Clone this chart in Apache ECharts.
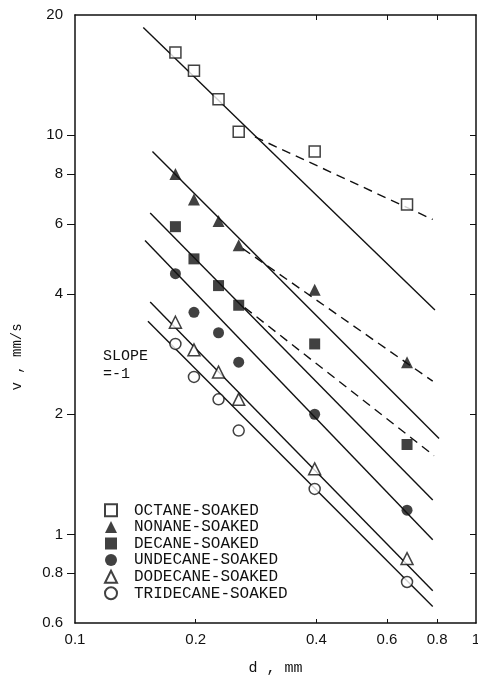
<!DOCTYPE html>
<html>
<head>
<meta charset="utf-8">
<script src="https://cdn.jsdelivr.net/npm/echarts@6/dist/echarts.min.js"></script>
<style>
  html, body { margin: 0; padding: 0; background: #fff; }
  #chart { width: 478px; height: 682px; }
</style>
</head>
<body>
<div id="chart"></div>
<script>
// droplet diameter d (mm) – same for every fuel
const dValues = [0.178, 0.198, 0.228, 0.256, 0.396, 0.673]

// measured v (mm/s)
const octane = [16.1, 14.5, 12.3, 10.2, 9.1, 6.7]
const nonane = [8.0, 6.9, 6.1, 5.3, 4.1, 2.7]
const decane = [5.9, 4.9, 4.2, 3.75, 3.0, 1.68]
const undecane = [4.5, 3.6, 3.2, 2.7, 2.0, 1.15]
const dodecane = [3.4, 2.9, 2.55, 2.18, 1.46, 0.87]
const tridecane = [3.0, 2.48, 2.18, 1.82, 1.3, 0.76]

// slope -1 fitted lines (end points)
const octaneFit = [[0.148, 18.6], [0.79, 3.65]]
const nonaneFit = [[0.156, 9.1], [0.809, 1.74]]
const decaneFit = [[0.154, 6.38], [0.78, 1.22]]
const undecaneFit = [[0.1495, 5.45], [0.78, 0.97]]
const dodecaneFit = [[0.154, 3.82], [0.78, 0.723]]
const tridecaneFit = [[0.152, 3.42], [0.78, 0.66]]

// dashed trend lines
const octaneDash = [[0.281, 9.9], [0.78, 6.15]]
const nonaneDash = [[0.262, 5.2], [0.78, 2.42]]
const decaneDash = [[0.265, 3.7], [0.786, 1.575]]

// tick labels
const xTicks = [0.1, 0.2, 0.4, 0.6, 0.8, 1]
const yTicks = [0.6, 0.8, 1, 2, 4, 6, 8, 10, 20]
const xInnerTicks = [0.2, 0.4, 0.6, 0.8]
const yInnerTicks = [0.8, 1, 2, 4, 6, 8, 10]

const ink = '#111'
const mono = 'Liberation Mono'

const chart = echarts.init(document.getElementById('chart'))

const pairs = (ys) => dValues.map((d, i) => [d, ys[i]])

const markerSeries = (name, ys, symbol, filled) => ({
  name: name,
  type: 'scatter',
  data: pairs(ys),
  symbol: symbol,
  symbolSize: symbol === 'triangle' ? 12 : 11,
  itemStyle: {
    color: filled ? ink : '#fff',
    borderColor: ink,
    borderWidth: filled ? 0 : 1.5
  },
  z: 5
})

const lineSeries = (pts, dashed) => ({
  type: 'line',
  data: pts,
  symbol: 'none',
  silent: true,
  lineStyle: {
    color: ink,
    width: 1.4,
    type: dashed ? [9, 6] : 'solid'
  },
  z: 3
})

const fmt = (v) => String(+Number(v).toPrecision(3))

const option = {
  animation: false,
  backgroundColor: '#fff',
  grid: { left: 75, right: 2, top: 15, bottom: 59, outerBoundsMode: 'none', containLabel: false },
  xAxis: [
    {
      type: 'log',
      min: 0.1,
      max: 1,
      position: 'bottom',
      name: 'd , mm',
      nameLocation: 'middle',
      nameGap: 38,
      nameTextStyle: { fontFamily: mono, fontSize: 15, color: ink },
      axisLine: { lineStyle: { color: ink, width: 1.5 } },
      axisTick: { inside: true, length: 4, customValues: xInnerTicks, lineStyle: { color: ink } },
      axisLabel: {
        customValues: xTicks,
        formatter: fmt,
        fontFamily: 'Liberation Sans',
        fontSize: 15,
        color: ink,
        margin: 9,
        hideOverlap: false
      },
      splitLine: { show: false },
      minorTick: { show: false }
    },
    {
      type: 'log',
      min: 0.1,
      max: 1,
      position: 'top',
      axisLine: { lineStyle: { color: ink, width: 1.5 } },
      axisTick: { inside: true, length: 5, customValues: xInnerTicks, lineStyle: { color: ink } },
      axisLabel: { show: false },
      splitLine: { show: false }
    }
  ],
  yAxis: [
    {
      type: 'log',
      min: 0.6,
      max: 20,
      position: 'left',
      axisLine: { lineStyle: { color: ink, width: 1.5 } },
      axisTick: { inside: false, length: 8, customValues: yInnerTicks, lineStyle: { color: ink } },
      axisLabel: {
        customValues: yTicks,
        formatter: fmt,
        fontFamily: 'Liberation Sans',
        fontSize: 15,
        color: ink,
        margin: 12
      },
      splitLine: { show: false }
    },
    {
      type: 'log',
      min: 0.6,
      max: 20,
      position: 'right',
      axisLine: { lineStyle: { color: ink, width: 1.5 } },
      axisTick: { inside: true, length: 6, customValues: yInnerTicks, lineStyle: { color: ink } },
      axisLabel: { show: false },
      splitLine: { show: false }
    }
  ],
  legend: {
    orient: 'vertical',
    left: 99,
    top: 497,
    itemWidth: 12,
    itemHeight: 12,
    itemGap: 0,
    selectedMode: false,
    data: ['OCTANE-SOAKED', 'NONANE-SOAKED', 'DECANE-SOAKED', 'UNDECANE-SOAKED', 'DODECANE-SOAKED', 'TRIDECANE-SOAKED'],
    textStyle: { fontFamily: mono, fontSize: 16, color: ink, lineHeight: 16.6, padding: [0, 0, 0, 12] }
  },
  graphic: [
    {
      type: 'text',
      left: 103,
      top: 347,
      style: { text: 'SLOPE\n=-1', font: '15px "Liberation Mono"', fill: ink, lineHeight: 18 }
    },
    {
      type: 'text',
      x: 17,
      y: 357,
      rotation: Math.PI / 2,
      style: { text: 'v , mm/s', font: '14px "Liberation Mono"', fill: ink, align: 'center', verticalAlign: 'middle' }
    }
  ],
  series: [
    markerSeries('OCTANE-SOAKED', octane, 'rect', false),
    markerSeries('NONANE-SOAKED', nonane, 'triangle', true),
    markerSeries('DECANE-SOAKED', decane, 'rect', true),
    markerSeries('UNDECANE-SOAKED', undecane, 'circle', true),
    markerSeries('DODECANE-SOAKED', dodecane, 'triangle', false),
    markerSeries('TRIDECANE-SOAKED', tridecane, 'circle', false),
    lineSeries(octaneFit, false),
    lineSeries(nonaneFit, false),
    lineSeries(decaneFit, false),
    lineSeries(undecaneFit, false),
    lineSeries(dodecaneFit, false),
    lineSeries(tridecaneFit, false),
    lineSeries(octaneDash, true),
    lineSeries(nonaneDash, true),
    lineSeries(decaneDash, true)
  ]
}

chart.setOption(option)
</script>
</body>
</html>
